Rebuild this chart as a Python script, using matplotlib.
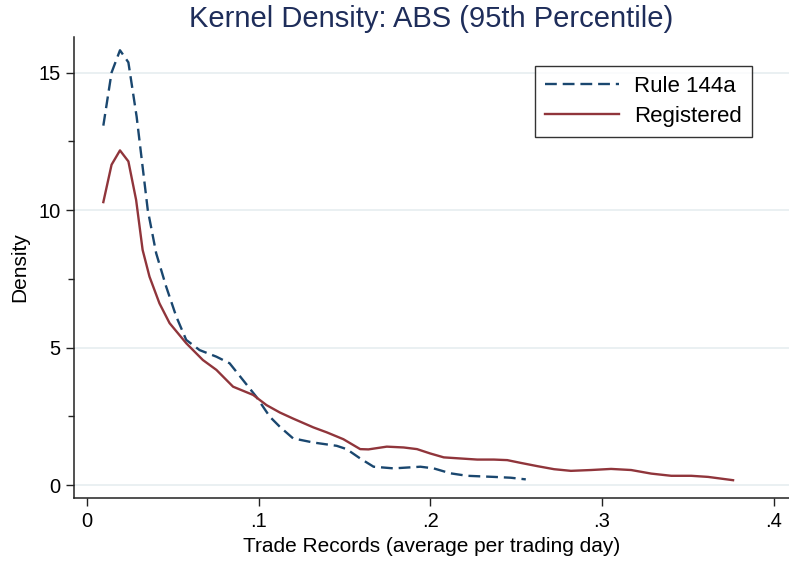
import matplotlib
matplotlib.use("Agg")
import matplotlib.pyplot as plt
from matplotlib.ticker import MultipleLocator

plt.rcParams["font.family"] = ["Liberation Sans", "DejaVu Sans"]

# Kernel density estimates, trade records per trading day (ABS, 95th pct)
rule_x = [0.0094, 0.0142, 0.0191, 0.0240, 0.0288, 0.0353, 0.0402, 0.0460,
          0.0519, 0.0577, 0.0655, 0.0753, 0.0830, 0.0908, 0.0986, 0.1064,
          0.1123, 0.1200, 0.1318, 0.1454, 0.1512, 0.1591, 0.1669, 0.1786,
          0.1942, 0.2019, 0.2117, 0.2214, 0.2370, 0.2468, 0.2556]
rule_y = [13.07, 15.00, 15.81, 15.37, 13.40, 10.00, 8.43, 7.22,
          6.13, 5.28, 4.91, 4.67, 4.43, 3.82, 3.21, 2.49,
          2.12, 1.70, 1.55, 1.43, 1.31, 0.97, 0.67, 0.61,
          0.67, 0.61, 0.43, 0.34, 0.30, 0.27, 0.21]

reg_x = [0.0094, 0.0142, 0.0191, 0.0240, 0.0285, 0.0323, 0.0363, 0.0421,
         0.0480, 0.0577, 0.0674, 0.0753, 0.0850, 0.0967, 0.1045, 0.1123,
         0.1200, 0.1318, 0.1396, 0.1493, 0.1591, 0.1639, 0.1746, 0.1844,
         0.1922, 0.2000, 0.2078, 0.2175, 0.2273, 0.2370, 0.2448, 0.2526,
         0.2624, 0.2721, 0.2819, 0.2936, 0.3053, 0.3170, 0.3287, 0.3404,
         0.3520, 0.3618, 0.3764]
reg_y = [10.29, 11.65, 12.17, 11.77, 10.37, 8.55, 7.58, 6.61,
         5.89, 5.16, 4.55, 4.19, 3.58, 3.28, 2.91, 2.64,
         2.42, 2.10, 1.92, 1.67, 1.31, 1.30, 1.40, 1.37,
         1.31, 1.15, 1.01, 0.97, 0.93, 0.93, 0.91, 0.81,
         0.69, 0.58, 0.52, 0.55, 0.59, 0.55, 0.42, 0.34,
         0.34, 0.30, 0.18]

x_ticks = [0, 0.1, 0.2, 0.3, 0.4]
x_labels = ["0", ".1", ".2", ".3", ".4"]
y_ticks = [0, 5, 10, 15]

BLUE = "#1a476f"
RED = "#90353b"

fig = plt.figure(figsize=(7.89, 5.66), dpi=100)
ax = fig.add_axes([0.094, 0.120, 0.906, 0.815])

ax.plot(rule_x, rule_y, color=BLUE, lw=1.7, ls=(0, (5, 2.5)), label="Rule 144a")
ax.plot(reg_x, reg_y, color=RED, lw=1.7, label="Registered")

ax.set_xlim(-0.0076, 0.409)
ax.set_ylim(-0.47, 16.3)

ax.set_xticks(x_ticks)
ax.set_xticklabels(x_labels)
ax.set_yticks(y_ticks)
ax.yaxis.set_minor_locator(MultipleLocator(2.5))
ax.tick_params(axis="both", which="major", labelsize=14.5, length=6,
               width=1, color="#222222", pad=4)
ax.tick_params(axis="y", which="minor", length=4, width=1, color="#222222")

ax.grid(True, axis="y", color="#e6eef0", lw=1.2)
ax.set_axisbelow(True)
for side in ("top", "right"):
    ax.spines[side].set_visible(False)
for side in ("left", "bottom"):
    ax.spines[side].set_color("#222222")
    ax.spines[side].set_linewidth(1.1)

ax.set_xlabel("Trade Records (average per trading day)", fontsize=15, labelpad=4)
ax.set_ylabel("Density", fontsize=15, labelpad=6)
ax.set_title("Kernel Density: ABS (95th Percentile)", fontsize=21,
             color="#1e2d5a", pad=7)

leg = ax.legend(loc="upper right", bbox_to_anchor=(0.948, 0.937), fontsize=16,
                frameon=True, fancybox=False, handlelength=3.3,
                borderpad=0.45, labelspacing=0.4, handletextpad=0.7,
                borderaxespad=0)
leg.get_frame().set_edgecolor("black")
leg.get_frame().set_linewidth(1.0)

fig.savefig("out.png", dpi=100)
